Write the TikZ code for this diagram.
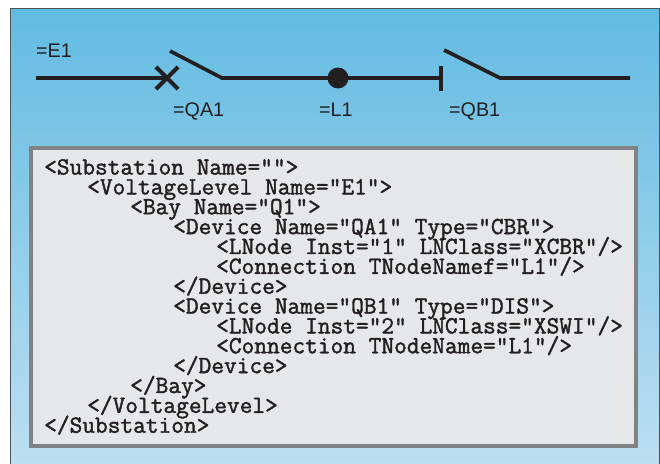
\documentclass[tikz,border=0pt]{standalone}
\usepackage{fontspec}
\setmainfont{Liberation Sans}
\newfontfamily\xmlfamily[FakeBold=1.6]{Latin Modern Mono}
\usetikzlibrary{shapes.misc}
\definecolor{panelTop}{HTML}{62BBE2}
\definecolor{panelBottom}{HTML}{BDDFF1}
\definecolor{panelEdge}{HTML}{4A5459}
\definecolor{boxFill}{HTML}{E6E7E9}
\definecolor{boxEdge}{HTML}{808285}
\definecolor{ink}{HTML}{231F20}
\newcommand{\tagindent}[1]{\hspace*{#1\dimexpr 43pt\relax}}
\newcommand{\xmlsize}{\fontsize{24.68}{19.86}\selectfont\setlength{\lineskiplimit}{-20pt}}
\tikzset{
  busline/.style={line width=3.6pt,draw=ink},
  tag/.style={anchor=base west,inner sep=0pt,text=ink,font=\fontsize{19.7}{22}\selectfont},
  xmlbox/.style={draw=boxEdge,fill=boxFill,line width=4pt,minimum width=605pt,minimum height=298pt,inner sep=0pt},
  xmltext/.style={anchor=base west,inner sep=0pt,align=left,text=ink,font=\xmlfamily\xmlsize}
}
\begin{document}
\begin{tikzpicture}[x=1pt,y=-1pt]
  \useasboundingbox (0,0) rectangle (660,463);

  \shadedraw [top color=panelTop,bottom color=panelBottom,draw=panelEdge,line width=1pt]
  (10,8) rectangle (659,466);

  \coordinate (busstart) at (36,78);
  \coordinate (qapivot) at (222,78);
  \coordinate (qablade) at (170,51);
  \coordinate (qbpivot) at (500,78);
  \coordinate (qbblade) at (444,50);
  \coordinate (busend) at (630,78);

  \node (qabreak) [cross out,draw=ink,line width=4.2pt,minimum size=18pt,inner sep=0pt] at (167,78) {};
  \node (busdot) [circle,fill=ink,minimum size=21pt,inner sep=0pt] at (338,78) {};
  \node (qbstop) [rectangle,fill=ink,minimum width=3.5pt,minimum height=25pt,inner sep=0pt] at (441,78) {};

  \draw [busline] (busstart) -- (qabreak.center);
  \draw [busline] (qablade) -- (qapivot) -- (busdot.center);
  \draw [busline] (busdot.center) -- (qbstop.center);
  \draw [busline] (qbblade) -- (qbpivot) -- (busend);

  \node (e1) [tag] at (36,57) {=E1};
  \node (qa1) [tag] at (173,116) {=QA1};
  \node (l1) [tag] at (319,116) {=L1};
  \node (qb1) [tag] at (449,116) {=QB1};

  \node (box) [xmlbox] at (333.5,297) {};
  \node (code) [xmltext] at (44,432.7) {%
    <Substation Name="">\\
    \tagindent{1}<VoltageLevel Name="E1">\\
    \tagindent{2}<Bay Name="Q1">\\
    \tagindent{3}<Device Name="QA1" Type="CBR">\\
    \tagindent{4}<LNode Inst="1" LNClass="XCBR"/>\\
    \tagindent{4}<Connection TNodeNamef="L1"/>\\
    \tagindent{3}</Device>\\
    \tagindent{3}<Device Name="QB1" Type="DIS">\\
    \tagindent{4}<LNode Inst="2" LNClass="XSWI"/>\\
    \tagindent{4}<Connection TNodeName="L1"/>\\
    \tagindent{3}</Device>\\
    \tagindent{2}</Bay>\\
    \tagindent{1}</VoltageLevel>\\
    </Substation>};
\end{tikzpicture}
\end{document}
